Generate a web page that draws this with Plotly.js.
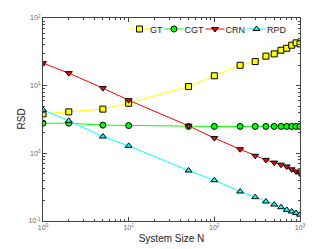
<!DOCTYPE html>
<html><head><meta charset="utf-8">
<script src="https://cdn.plot.ly/plotly-3.0.1.min.js"></script>
<style>html,body{margin:0;padding:0;background:#fff}#c{width:332px;height:249px}</style>
</head><body><div id="c"></div>
<script>
const N = [1,2,5,10,50,100,200,300,400,500,600,700,800,900,1000];
const GT  = [3.83,4.1,4.5,5.5,9.7,14,20,22.7,27.3,29.5,33.4,35.7,39.6,42.9,41.4];
const CGT = [2.79,2.79,2.61,2.57,2.5,2.5,2.5,2.5,2.5,2.5,2.5,2.5,2.5,2.5,2.5];
const CRN = [21.5,15.3,9.2,6.1,2.55,1.68,1.15,0.92,0.80,0.73,0.68,0.64,0.58,0.54,0.50];
const RPD = [4.4,3.02,1.77,1.29,0.557,0.40,0.273,0.225,0.194,0.175,0.16,0.146,0.138,0.131,0.124];
const xTickVals = [1,10,100,1000];
const xTickText = ['10<sup>0</sup>','10<sup>1</sup>','10<sup>2</sup>','10<sup>3</sup>'];
const yTickVals = [0.1,1,10,100];
const yTickText = ['10<sup>-1</sup>','10<sup>0</sup>','10<sup>1</sup>','10<sup>2</sup>'];
function minorVals(lo, hi){const v=[];for(let d=lo;d<hi*0.999;d*=10)for(let k=2;k<=9;k++)v.push(d*k);return v;}
function tr(name,y,color,sym){
  return {x:N,y:y,name:name,type:'scatter',mode:'lines+markers',
    line:{color:color,width:1},
    marker:{symbol:sym,size:6,color:color,line:{color:'#000',width:1}}};
}
const data=[tr('GT',GT,'#ffff00','square'),tr('CGT',CGT,'#00ff00','circle'),
            tr('CRN',CRN,'#ff0000','triangle-down'),tr('RPD',RPD,'#00ffff','triangle-up')];
const axBase={type:'log',showgrid:false,zeroline:false,showline:true,linecolor:'#444',linewidth:1,mirror:'ticks',
  ticks:'inside',ticklen:4,tickcolor:'#444',tickmode:'array',tickfont:{size:7,color:'#666',family:'Liberation Sans, Arial'}};
const layout={width:332,height:249,margin:{l:43,r:32,t:18,b:28},
  paper_bgcolor:'#fff',plot_bgcolor:'#fff',font:{family:'Liberation Sans, Arial',color:'#222'},
  showlegend:true,
  legend:{orientation:'h',x:0,xanchor:'left',y:0.946,yanchor:'middle',bgcolor:'rgba(0,0,0,0)',
    font:{size:9,color:'#222'},itemwidth:30,tracegroupgap:0},
  xaxis:Object.assign({},axBase,{range:[0,3],tickvals:xTickVals,ticktext:xTickText,
    minor:{tickmode:'array',tickvals:minorVals(1,1000),ticks:'inside',ticklen:2,tickcolor:'#444'},
    title:{text:'System Size N',font:{size:10,color:'#222'},standoff:4}}),
  yaxis:Object.assign({},axBase,{range:[-1,2],tickvals:yTickVals,ticktext:yTickText,
    minor:{tickmode:'array',tickvals:minorVals(0.1,100),ticks:'inside',ticklen:2,tickcolor:'#444'}}),
  annotations:[{text:'RSD',xref:'paper',yref:'paper',x:0,y:0.5,xanchor:'center',yanchor:'middle',
    xshift:-22,textangle:-90,showarrow:false,font:{size:10,color:'#222'}}]
};
function compactLegend(gd){
  const leg = gd.querySelector('g.legend');
  if(!leg) return;
  const traces = leg.querySelectorAll('g.traces');
  let x = 0, ty0 = null;
  traces.forEach(t=>{
    const m = /translate\(\s*([-\d.]+)[ ,]+([-\d.]+)/.exec(t.getAttribute('transform')||'');
    const ty = m ? parseFloat(m[2]) : 0;
    if(ty0===null) ty0 = ty;
    t.querySelectorAll('path.js-line').forEach(l=>l.setAttribute('d','M0,0h19'));
    t.querySelectorAll('.legendpoints path').forEach(p=>p.setAttribute('transform','translate(9.5,0)'));
    const txt = t.querySelector('text.legendtext');
    txt.setAttribute('x', 20);
    const w = txt.getComputedTextLength();
    t.setAttribute('transform','translate('+x+','+ty+')');
    const tog = t.querySelector('rect.legendtoggle');
    if(tog) tog.setAttribute('width', 20+w);
    x += 20 + w + 2;
  });
  leg.setAttribute('transform','translate(130,'+(29-ty0)+')');
  const bg = leg.querySelector('rect.bg'); if(bg) bg.setAttribute('width', x);
}
Plotly.newPlot('c',data,layout,{displayModeBar:false,staticPlot:true}).then(compactLegend);
</script></body></html>
